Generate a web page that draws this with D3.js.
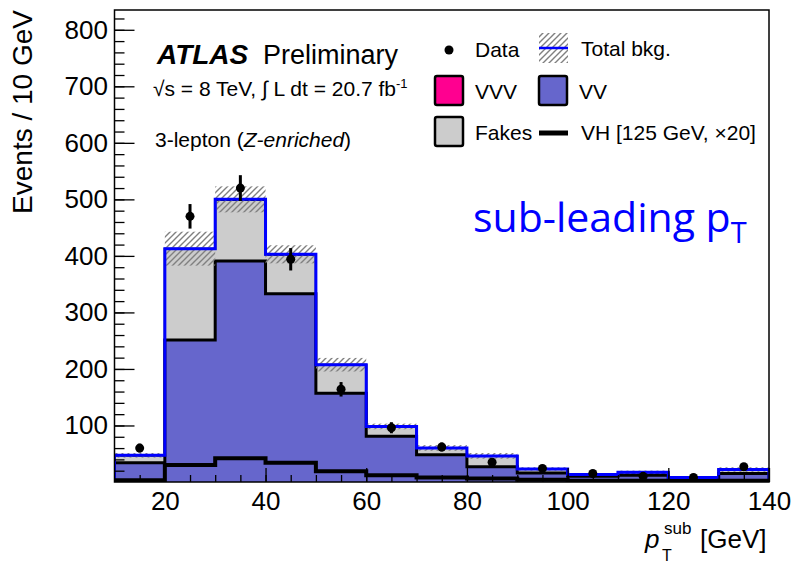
<!DOCTYPE html>
<html>
<head>
<meta charset="utf-8">
<script src="https://cdn.jsdelivr.net/npm/d3@7"></script>
<style>
body { margin: 0; background: #fff; }
text { font-family: 'Liberation Sans', Arial, sans-serif; fill: #000; }
</style>
</head>
<body>
<svg width="794" height="565"></svg>
<script>
// bins of 10 GeV, lower edges
var binLow = [10, 20, 30, 40, 50, 60, 70, 80, 90, 100, 110, 120, 130];
var binWidth = 10;

// stacked backgrounds (events / 10 GeV)
var vv    = [34, 251, 391, 333, 157, 81, 48, 27, 16, 10, 12, 6, 15];
var fakes = [13, 161, 108, 69, 50, 17, 12, 19, 7, 3, 5, 2, 7];
var vvv   = [0.2, 0.8, 1.0, 0.8, 0.5, 0.3, 0.2, 0.2, 0.1, 0.1, 0.1, 0.1, 0.1];
var bkgErr = [4, 30, 23, 16, 12, 5, 5, 5, 3, 2, 3, 2, 4];

// VH signal x20
var vh = [3, 30, 42, 34, 19, 12, 8, 6, 4, 2, 2, 1, 2];

// data
var data    = [60, 470, 520, 394, 164, 96, 62, 35, 24, 15, 10, 8, 27];
var dataErr = [7.7, 21.7, 22.8, 19.8, 12.8, 9.8, 7.9, 5.9, 4.9, 3.9, 3.2, 2.8, 5.2];

var yTicks = [100, 200, 300, 400, 500, 600, 700, 800];
var xTicks = [20, 40, 60, 80, 100, 120, 140];

var svg = d3.select('svg');

var plot = {l: 114.5, r: 769, t: 10, b: 482};

var x = d3.scaleLinear().domain([10, 140]).range([plot.l, plot.r]);
var y = d3.scaleLinear().domain([0, 835]).range([plot.b, plot.t]);

// hatch pattern for the uncertainty band
var defs = svg.append('defs');
defs.append('pattern')
	.attr('id', 'hatch')
	.attr('patternUnits', 'userSpaceOnUse')
	.attr('width', 6)
	.attr('height', 6)
	.append('path')
	.attr('d', 'M-1,1 l2,-2 M0,6 l6,-6 M5,7 l2,-2')
	.attr('stroke', '#808080')
	.attr('stroke-width', 1.4);

defs.append('clipPath').attr('id', 'clip')
	.append('rect')
	.attr('x', plot.l).attr('y', plot.t)
	.attr('width', plot.r - plot.l).attr('height', plot.b - plot.t);

var rows = binLow.map(function(d, i) {
	return {low: d, vv: vv[i], fakes: fakes[i], vvv: vvv[i]};
});
var stack = d3.stack().keys(['vv', 'fakes', 'vvv']);
var layers = stack(rows);
var colors = {vv: '#6666cc', fakes: '#cccccc', vvv: '#ff0090'};

var g = svg.append('g').attr('clip-path', 'url(#clip)');

// step points for a histogram, closed to zero at both ends
function stepTop(vals) {
	var pts = [[binLow[0], 0]];
	vals.forEach(function(v, i) {
		pts.push([binLow[i], v]);
		pts.push([binLow[i] + binWidth, v]);
	});
	pts.push([binLow[binLow.length - 1] + binWidth, 0]);
	return pts;
}

var area = d3.area()
	.x(function(d) { return x(d[0]); })
	.y0(function(d) { return y(d[1]); })
	.y1(function(d) { return y(d[2]); });

var line = d3.line()
	.x(function(d) { return x(d[0]); })
	.y(function(d) { return y(d[1]); });

layers.forEach(function(layer) {
	var pts = [];
	layer.forEach(function(s, i) {
		pts.push([binLow[i], s[0], s[1]]);
		pts.push([binLow[i] + binWidth, s[0], s[1]]);
	});
	g.append('path')
		.attr('d', area(pts))
		.attr('fill', colors[layer.key]);
});

layers.forEach(function(layer) {
	g.append('path')
		.attr('d', line(stepTop(layer.map(function(s) { return s[1]; }))))
		.attr('fill', 'none')
		.attr('stroke', '#000')
		.attr('stroke-width', layer.key == 'vv' ? 3 : 2);
});

var total = layers[layers.length - 1].map(function(s) { return s[1]; });

// uncertainty band
g.selectAll('rect.band')
	.data(total)
	.enter()
	.append('rect')
	.attr('class', 'band')
	.attr('x', function(d, i) { return x(binLow[i]); })
	.attr('width', function(d, i) { return x(binLow[i] + binWidth) - x(binLow[i]); })
	.attr('y', function(d, i) { return y(d + bkgErr[i]); })
	.attr('height', function(d, i) { return y(d - bkgErr[i]) - y(d + bkgErr[i]); })
	.attr('fill', 'url(#hatch)');

// total background outline
g.append('path')
	.attr('d', line(stepTop(total)))
	.attr('fill', 'none')
	.attr('stroke', '#0000ff')
	.attr('stroke-width', 3);

// VH x20
g.append('path')
	.attr('d', line(stepTop(vh)))
	.attr('fill', 'none')
	.attr('stroke', '#000')
	.attr('stroke-width', 4);

// data points
var pts = svg.append('g');
pts.selectAll('line')
	.data(data)
	.enter()
	.append('line')
	.attr('x1', function(d, i) { return x(binLow[i] + binWidth / 2); })
	.attr('x2', function(d, i) { return x(binLow[i] + binWidth / 2); })
	.attr('y1', function(d, i) { return y(d - dataErr[i]); })
	.attr('y2', function(d, i) { return y(d + dataErr[i]); })
	.attr('stroke', '#000')
	.attr('stroke-width', 3);
pts.selectAll('circle')
	.data(data)
	.enter()
	.append('circle')
	.attr('cx', function(d, i) { return x(binLow[i] + binWidth / 2); })
	.attr('cy', function(d) { return y(d); })
	.attr('r', 4.5)
	.attr('fill', '#000');

// axes, ticks pointing inward
var yMinor = d3.range(20, 835, 20);
var xMinor = d3.range(15, 140, 5);

svg.append('g')
	.attr('transform', 'translate(' + plot.l + ',0)')
	.call(d3.axisLeft(y).tickValues(yMinor).tickSize(-10).tickFormat(''));
var yAxis = svg.append('g')
	.attr('transform', 'translate(' + plot.l + ',0)')
	.call(d3.axisLeft(y).tickValues(yTicks).tickSize(-20).tickPadding(6.5));

svg.append('g')
	.attr('transform', 'translate(0,' + plot.b + ')')
	.call(d3.axisBottom(x).tickValues(xMinor).tickSize(-7).tickFormat(''));
var xAxis = svg.append('g')
	.attr('transform', 'translate(0,' + plot.b + ')')
	.call(d3.axisBottom(x).tickValues(xTicks).tickSize(-14).tickPadding(9.5));

svg.selectAll('.domain').remove();
svg.selectAll('.tick line').attr('stroke', '#000').attr('stroke-width', 1.3);
yAxis.selectAll('text').style('font-size', '26px').attr('fill', '#000');
xAxis.selectAll('text').style('font-size', '26px').attr('fill', '#000');

// frame
svg.append('rect')
	.attr('x', plot.l).attr('y', plot.t)
	.attr('width', plot.r - plot.l).attr('height', plot.b - plot.t)
	.attr('fill', 'none')
	.attr('stroke', '#000')
	.attr('stroke-width', 1.5);

// axis titles
svg.append('text')
	.attr('transform', 'translate(32,10) rotate(-90)')
	.attr('text-anchor', 'end')
	.style('font-size', '28px')
	.text('Events / 10 GeV');

var xt = svg.append('g');
xt.append('text').attr('x', 645).attr('y', 548).style('font-size', '26px').style('font-style', 'italic').text('p');
xt.append('text').attr('x', 664).attr('y', 534).style('font-size', '17px').text('sub');
xt.append('text').attr('x', 662).attr('y', 561).style('font-size', '16px').text('T');
xt.append('text').attr('x', 700).attr('y', 548).style('font-size', '26px').text('[GeV]');

// labels
svg.append('text').attr('x', 157).attr('y', 64)
	.style('font-size', '28px').style('font-weight', 'bold').style('font-style', 'italic')
	.text('ATLAS');
svg.append('text').attr('x', 263).attr('y', 64)
	.style('font-size', '27px')
	.text('Preliminary');

var lumi = svg.append('text').attr('x', 153).attr('y', 96).style('font-size', '21px');
lumi.append('tspan').text('\u221As = 8 TeV, \u222B L dt = 20.7 fb');
lumi.append('tspan').attr('dy', -8).style('font-size', '13px').text('-1');

var sel = svg.append('text').attr('x', 155).attr('y', 147).style('font-size', '21px');
sel.append('tspan').text('3-lepton (');
sel.append('tspan').style('font-style', 'italic').text('Z-enriched');
sel.append('tspan').text(')');

var sub = svg.append('text').attr('x', 473).attr('y', 232)
	.style('font-family', "'Open Sans', sans-serif").style('font-size', '41px').style('fill', '#0000ff');
sub.append('tspan').text('sub-leading p');
sub.append('tspan').attr('dy', 11).style('font-size', '29px').style('fill', '#0000ff').text('T');

// legend
var leg = svg.append('g');
leg.append('circle').attr('cx', 449).attr('cy', 50).attr('r', 4.5).attr('fill', '#000');
leg.append('text').attr('x', 475).attr('y', 57).style('font-size', '21px').text('Data');

leg.append('rect').attr('x', 539).attr('y', 33).attr('width', 29).attr('height', 30).attr('fill', 'url(#hatch)');
leg.append('line').attr('x1', 539).attr('x2', 568).attr('y1', 48).attr('y2', 48)
	.attr('stroke', '#0000ff').attr('stroke-width', 2.5);
leg.append('text').attr('x', 581).attr('y', 56).style('font-size', '21px').text('Total bkg.');

var boxes = [
	{x: 435, y: 76, key: 'vvv', label: 'VVV'},
	{x: 539, y: 76, key: 'vv', label: 'VV'},
	{x: 435, y: 117, key: 'fakes', label: 'Fakes'}
];
boxes.forEach(function(b) {
	leg.append('rect')
		.attr('x', b.x).attr('y', b.y).attr('width', 28).attr('height', 29).attr('rx', 2)
		.attr('fill', colors[b.key]).attr('stroke', '#000').attr('stroke-width', 2.5);
	leg.append('text').attr('x', b.x + 40).attr('y', b.y + 23).style('font-size', '21px').text(b.label);
});

leg.append('line').attr('x1', 539).attr('x2', 568).attr('y1', 133).attr('y2', 133)
	.attr('stroke', '#000').attr('stroke-width', 5);
leg.append('text').attr('x', 581).attr('y', 140).style('font-size', '21px').text('VH [125 GeV, \u00D720]');
</script>
</body>
</html>
